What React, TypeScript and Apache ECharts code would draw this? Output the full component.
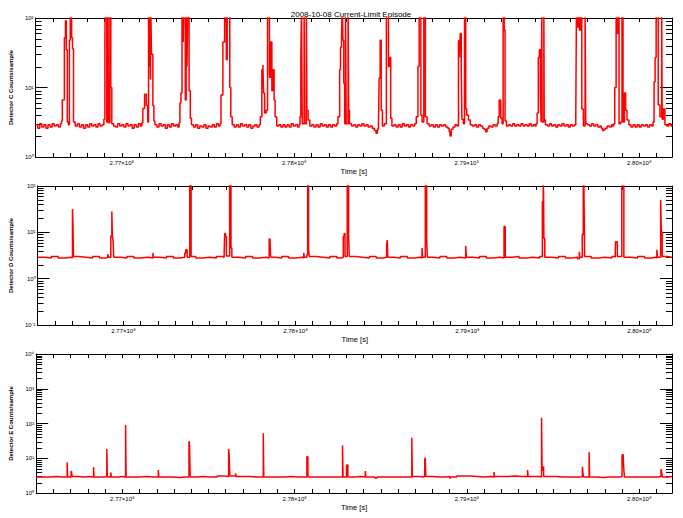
import React, { useEffect, useRef } from "react";
import * as echarts from "echarts";

const titleText = "2008-10-08 Current-Limit Episode";
const xAxisTitle = "Time [s]";
const detectorTitles = [
  "Detector C Counts/sample",
  "Detector D Counts/sample",
  "Detector E Counts/sample",
];
const timeMin = 276.5e6;
const timeMax = 280.19e6;
const timeTickStep = 1e5;
const yRanges: [number, number][] = [
  [1, 100],
  [0.1, 100],
  [1, 10000],
];
const minorMantissas = [2, 3, 4, 5, 6, 7, 8, 9];

const detectorC: [number, number][] = [
  [276.500e6, 2.9],[276.512e6, 2.6],[276.524e6, 3.0],[276.536e6, 2.7],[276.548e6, 2.9],[276.560e6, 2.6],[276.572e6, 2.9],[276.584e6, 2.7],[276.596e6, 3.0],[276.608e6, 2.8],[276.620e6, 2.9],[276.632e6, 2.7],[276.644e6, 3.0],[276.650e6, 3.3],
  [276.655e6, 6.6],[276.667e6, 52],[276.673e6, 91],[276.678e6, 35],[276.684e6, 3.2],[276.690e6, 2.9],[276.696e6, 48],[276.701e6, 150],[276.709e6, 52],[276.714e6, 36],[276.720e6, 3.2],
  [276.730e6, 2.8],[276.742e6, 3.0],[276.754e6, 2.7],[276.766e6, 2.9],[276.778e6, 2.6],[276.790e6, 2.9],[276.802e6, 2.7],[276.814e6, 3.0],[276.826e6, 2.8],[276.838e6, 2.9],[276.850e6, 2.7],[276.862e6, 3.0],[276.874e6, 2.8],[276.886e6, 2.9],[276.896e6, 3.5],
  [276.902e6, 50],[276.904e6, 150],[276.913e6, 3.2],[276.920e6, 150],[276.923e6, 3.1],[276.931e6, 150],[276.936e6, 10],[276.942e6, 3.0],
  [276.952e6, 2.8],[276.964e6, 2.7],[276.976e6, 3.0],[276.988e6, 2.8],[277.000e6, 2.9],[277.012e6, 2.7],[277.024e6, 3.0],[277.036e6, 2.8],[277.048e6, 2.9],[277.060e6, 2.6],[277.072e6, 2.9],[277.084e6, 2.7],[277.096e6, 3.0],[277.108e6, 2.8],[277.116e6, 3.1],
  [277.122e6, 5],[277.132e6, 8],[277.142e6, 5.5],[277.150e6, 3.2],[277.155e6, 150],[277.159e6, 20],[277.162e6, 150],[277.166e6, 13],[277.168e6, 150],[277.172e6, 30],[277.180e6, 5.5],[277.186e6, 3.3],
  [277.192e6, 2.9],[277.204e6, 2.7],[277.216e6, 3.0],[277.228e6, 2.8],[277.240e6, 2.9],[277.252e6, 2.6],[277.264e6, 2.9],[277.276e6, 2.7],[277.288e6, 3.0],[277.300e6, 2.8],[277.312e6, 2.9],[277.324e6, 2.7],[277.332e6, 3.1],
  [277.337e6, 6],[277.343e6, 8.3],[277.349e6, 150],[277.356e6, 45],[277.359e6, 150],[277.368e6, 6.6],[277.373e6, 150],[277.378e6, 20],[277.382e6, 150],[277.390e6, 9],[277.397e6, 3.6],
  [277.404e6, 2.9],[277.416e6, 2.7],[277.428e6, 2.9],[277.440e6, 2.6],[277.452e6, 2.8],[277.464e6, 2.7],[277.476e6, 2.9],[277.488e6, 2.6],[277.500e6, 2.8],[277.512e6, 2.7],[277.524e6, 2.9],[277.536e6, 2.7],[277.548e6, 3.0],[277.560e6, 2.8],[277.570e6, 3.0],
  [277.575e6, 7.8],[277.586e6, 45],[277.596e6, 150],[277.606e6, 25],[277.611e6, 150],[277.626e6, 10],[277.632e6, 3.8],
  [277.640e6, 2.9],[277.652e6, 2.7],[277.664e6, 2.9],[277.676e6, 2.7],[277.688e6, 3.0],[277.700e6, 2.8],[277.712e6, 2.9],[277.724e6, 2.7],[277.736e6, 2.9],[277.748e6, 2.6],[277.760e6, 2.8],[277.772e6, 2.9],[277.784e6, 2.7],[277.796e6, 2.9],
  [277.803e6, 3.8],[277.812e6, 18],[277.818e6, 21],[277.822e6, 8.3],[277.828e6, 4.3],[277.837e6, 4.7],[277.845e6, 150],[277.856e6, 14],[277.864e6, 45],[277.870e6, 9],[277.875e6, 18],[277.883e6, 6.6],[277.889e6, 3.8],
  [277.898e6, 2.8],[277.910e6, 2.9],[277.922e6, 2.7],[277.934e6, 2.9],[277.946e6, 2.7],[277.958e6, 2.9],[277.970e6, 2.7],[277.982e6, 3.0],[277.994e6, 2.8],[278.006e6, 2.9],[278.018e6, 2.7],[278.028e6, 2.9],
  [278.033e6, 3.8],[278.038e6, 27],[278.042e6, 150],[278.046e6, 3.0],[278.057e6, 150],[278.060e6, 3.0],[278.070e6, 150],[278.073e6, 4.7],[278.080e6, 3.4],
  [278.090e6, 2.8],[278.102e6, 2.9],[278.114e6, 2.7],[278.126e6, 2.9],[278.138e6, 2.7],[278.150e6, 3.0],[278.162e6, 2.8],[278.174e6, 2.9],[278.186e6, 2.7],[278.198e6, 2.9],[278.210e6, 2.7],[278.222e6, 2.9],[278.234e6, 2.8],[278.246e6, 3.0],
  [278.253e6, 3.8],[278.263e6, 18],[278.268e6, 38],[278.274e6, 56],[278.278e6, 150],[278.282e6, 48],[278.287e6, 11.5],[278.292e6, 3.0],[278.297e6, 150],[278.301e6, 3.0],[278.312e6, 150],[278.315e6, 4.7],
  [278.320e6, 3.0],[278.332e6, 2.8],[278.344e6, 2.9],[278.356e6, 2.7],[278.368e6, 2.9],[278.380e6, 2.8],[278.392e6, 3.0],[278.404e6, 2.8],[278.416e6, 2.9],[278.428e6, 2.7],[278.440e6, 2.8],[278.452e6, 2.6],[278.464e6, 2.4],[278.474e6, 2.2],[278.482e6, 2.5],[278.488e6, 2.9],
  [278.492e6, 13.7],[278.498e6, 48],[278.504e6, 4.7],[278.511e6, 2.8],[278.522e6, 3.0],[278.534e6, 150],[278.546e6, 20],[278.552e6, 27],[278.559e6, 3.6],
  [278.566e6, 2.8],[278.578e6, 2.9],[278.590e6, 2.7],[278.602e6, 2.9],[278.614e6, 2.7],[278.626e6, 3.0],[278.638e6, 2.8],[278.650e6, 2.9],[278.662e6, 2.7],[278.674e6, 2.9],[278.686e6, 2.8],[278.698e6, 3.0],
  [278.707e6, 3.8],[278.717e6, 20],[278.724e6, 150],[278.734e6, 4],[278.741e6, 3.2],[278.751e6, 150],[278.760e6, 3.8],
  [278.770e6, 3.0],[278.782e6, 2.8],[278.794e6, 2.9],[278.806e6, 2.7],[278.818e6, 2.9],[278.830e6, 2.7],[278.842e6, 2.9],[278.854e6, 2.8],[278.866e6, 2.9],[278.878e6, 2.7],[278.890e6, 2.6],[278.898e6, 2.3],[278.903e6, 2.0],[278.910e6, 2.5],[278.920e6, 2.7],[278.932e6, 2.9],[278.944e6, 2.8],
  [278.952e6, 47],[278.958e6, 27],[278.962e6, 60],[278.968e6, 18],[278.972e6, 3.5],[278.980e6, 3.0],[278.987e6, 150],[278.994e6, 4.9],[279.000e6, 4],[279.010e6, 3.4],
  [279.020e6, 2.9],[279.032e6, 2.8],[279.044e6, 2.9],[279.056e6, 2.7],[279.068e6, 2.9],[279.080e6, 2.8],[279.092e6, 2.6],[279.100e6, 2.5],[279.109e6, 2.3],[279.118e6, 2.6],[279.128e6, 2.8],[279.140e6, 2.7],[279.152e6, 2.9],[279.164e6, 2.8],[279.176e6, 3.0],
  [279.182e6, 3.8],[279.188e6, 6.6],[279.197e6, 3.6],[279.205e6, 3.0],[279.211e6, 150],[279.217e6, 67],[279.222e6, 3.3],
  [279.230e6, 2.8],[279.242e6, 2.9],[279.254e6, 2.8],[279.266e6, 3.0],[279.278e6, 2.8],[279.290e6, 2.9],[279.302e6, 2.8],[279.314e6, 3.0],[279.326e6, 2.8],[279.338e6, 2.9],[279.350e6, 2.8],[279.362e6, 3.0],[279.374e6, 2.8],[279.386e6, 2.9],[279.396e6, 2.8],
  [279.402e6, 3.0],[279.408e6, 4.3],[279.415e6, 27],[279.421e6, 35],[279.427e6, 8.6],[279.431e6, 3.2],[279.435e6, 150],[279.437e6, 3.2],[279.447e6, 150],[279.449e6, 3.4],
  [279.456e6, 2.9],[279.468e6, 2.8],[279.480e6, 3.0],[279.492e6, 2.8],[279.504e6, 2.9],[279.516e6, 2.7],[279.528e6, 2.9],[279.540e6, 2.8],[279.552e6, 3.0],[279.564e6, 2.8],[279.576e6, 2.9],[279.588e6, 2.7],[279.600e6, 2.9],[279.612e6, 2.8],[279.624e6, 2.9],
  [279.632e6, 3.4],[279.636e6, 150],[279.642e6, 74],[279.648e6, 150],[279.653e6, 67],[279.661e6, 150],[279.667e6, 4.9],[279.676e6, 2.8],[279.686e6, 150],[279.690e6, 3.0],
  [279.700e6, 2.9],[279.712e6, 2.8],[279.724e6, 3.0],[279.736e6, 2.8],[279.748e6, 2.9],[279.760e6, 2.7],[279.772e6, 2.8],[279.780e6, 2.6],[279.788e6, 2.4],[279.796e6, 2.5],[279.804e6, 2.6],[279.814e6, 2.8],[279.826e6, 2.7],[279.838e6, 2.9],[279.846e6, 2.8],
  [279.852e6, 3.0],[279.858e6, 10],[279.866e6, 150],[279.872e6, 60],[279.878e6, 150],[279.883e6, 3.0],[279.892e6, 3.2],[279.900e6, 150],[279.906e6, 3.2],[279.914e6, 8.3],[279.921e6, 4.7],[279.929e6, 3.4],
  [279.940e6, 2.9],[279.952e6, 2.7],[279.964e6, 2.9],[279.976e6, 2.7],[279.988e6, 2.9],[280.000e6, 2.7],[280.012e6, 2.9],[280.024e6, 2.8],[280.036e6, 2.9],[280.048e6, 2.7],[280.060e6, 2.9],[280.072e6, 2.8],[280.080e6, 3.2],
  [280.086e6, 12],[280.092e6, 27],[280.098e6, 150],[280.110e6, 5.6],[280.120e6, 3.8],[280.130e6, 150],[280.133e6, 3.5],[280.140e6, 4.9],[280.149e6, 2.9],
  [280.160e6, 2.8],[280.172e6, 3.0],[280.184e6, 2.8],[280.190e6, 2.9],
];

const detectorD: [number, number][] = [
  [276.500e6, 2.9],[276.540e6, 2.8],[276.580e6, 3.0],[276.620e6, 2.8],[276.660e6, 2.9],[276.695e6, 2.8],
  [276.703e6, 32],[276.706e6, 14.5],[276.709e6, 3.0],
  [276.740e6, 2.9],[276.780e6, 2.8],[276.820e6, 3.0],[276.860e6, 2.8],[276.900e6, 2.9],
  [276.908e6, 3.4],[276.912e6, 2.9],[276.926e6, 8.3],[276.932e6, 28],[276.935e6, 8.3],[276.939e6, 6.7],[276.943e6, 2.9],
  [276.980e6, 2.8],[277.020e6, 3.0],[277.060e6, 2.8],[277.100e6, 2.9],[277.140e6, 2.8],
  [277.171e6, 3.6],[277.175e6, 2.9],
  [277.210e6, 2.8],[277.250e6, 3.0],[277.290e6, 2.8],[277.330e6, 2.9],
  [277.356e6, 3.6],[277.362e6, 4.2],[277.370e6, 2.9],[277.385e6, 500],[277.393e6, 3.0],
  [277.420e6, 2.8],[277.460e6, 2.9],[277.500e6, 2.8],[277.540e6, 3.0],[277.575e6, 2.9],
  [277.585e6, 3.3],[277.588e6, 9.4],[277.593e6, 8.1],[277.598e6, 3.1],[277.617e6, 500],[277.625e6, 4.6],[277.630e6, 2.9],
  [277.670e6, 2.8],[277.710e6, 3.0],[277.750e6, 2.8],[277.790e6, 2.9],[277.830e6, 2.8],
  [277.847e6, 7.2],[277.852e6, 6.3],[277.855e6, 3.1],[277.859e6, 2.9],
  [277.880e6, 2.8],[277.920e6, 3.0],[277.960e6, 2.8],[278.000e6, 2.9],[278.040e6, 2.8],
  [278.048e6, 3.6],[278.052e6, 2.9],[278.066e6, 3.3],[278.071e6, 500],[278.076e6, 4.5],[278.080e6, 3.0],
  [278.120e6, 2.9],[278.160e6, 2.8],[278.200e6, 3.0],[278.240e6, 2.8],[278.270e6, 2.9],
  [278.278e6, 8.1],[278.283e6, 9.4],[278.288e6, 3.0],[278.301e6, 500],[278.309e6, 8.1],[278.313e6, 3.0],
  [278.350e6, 2.9],[278.390e6, 2.8],[278.430e6, 3.0],[278.470e6, 2.8],[278.510e6, 2.9],
  [278.530e6, 5.3],[278.534e6, 6.8],[278.537e6, 2.9],
  [278.570e6, 2.8],[278.610e6, 3.0],[278.650e6, 2.8],[278.690e6, 2.9],[278.725e6, 2.8],
  [278.736e6, 4.6],[278.740e6, 2.9],[278.755e6, 500],[278.763e6, 6.8],[278.767e6, 2.9],
  [278.800e6, 2.8],[278.840e6, 3.0],[278.880e6, 2.8],[278.920e6, 2.9],[278.960e6, 2.8],
  [278.990e6, 5.1],[278.994e6, 2.9],
  [279.030e6, 2.8],[279.070e6, 3.0],[279.110e6, 2.8],[279.150e6, 2.9],[279.190e6, 2.8],
  [279.213e6, 13.3],[279.220e6, 2.9],
  [279.260e6, 3.0],[279.300e6, 2.8],[279.340e6, 2.9],[279.380e6, 2.8],[279.420e6, 3.0],
  [279.436e6, 46],[279.441e6, 500],[279.445e6, 7.4],[279.450e6, 2.9],
  [279.490e6, 2.8],[279.530e6, 3.0],[279.570e6, 2.8],[279.610e6, 2.9],[279.640e6, 2.7],
  [279.651e6, 3.8],[279.655e6, 2.9],[279.668e6, 9.0],[279.674e6, 500],[279.678e6, 70],[279.682e6, 3.0],
  [279.720e6, 2.8],[279.760e6, 2.9],[279.800e6, 2.8],[279.840e6, 3.0],[279.856e6, 2.9],
  [279.860e6, 3.9],[279.862e6, 6.3],[279.872e6, 3.0],[279.898e6, 500],[279.910e6, 2.9],
  [279.950e6, 2.8],[279.990e6, 3.0],[280.030e6, 2.8],[280.070e6, 2.9],[280.095e6, 2.8],
  [280.102e6, 4.2],[280.106e6, 2.9],[280.124e6, 50],[280.128e6, 10.2],[280.133e6, 3.0],
  [280.160e6, 2.9],[280.190e6, 2.8],
];

const detectorE: [number, number][] = [
  [276.500e6, 2.9],[276.540e6, 2.9],[276.580e6, 3.0],[276.620e6, 2.9],[276.660e6, 2.9],
  [276.680e6, 7.6],[276.683e6, 2.9],[276.703e6, 4.3],[276.706e6, 3.7],[276.709e6, 3.0],
  [276.740e6, 2.9],[276.780e6, 3.0],[276.810e6, 2.9],
  [276.833e6, 5.6],[276.836e6, 2.9],
  [276.870e6, 2.9],[276.900e6, 3.0],
  [276.910e6, 18.5],[276.913e6, 2.9],[276.933e6, 3.9],[276.936e6, 2.9],
  [276.980e6, 3.0],[277.000e6, 2.9],
  [277.019e6, 90],[277.022e6, 2.9],
  [277.060e6, 2.9],[277.100e6, 3.0],[277.140e6, 2.9],[277.180e6, 2.9],
  [277.209e6, 4.6],[277.212e6, 2.9],
  [277.250e6, 2.9],[277.290e6, 2.8],[277.330e6, 2.9],[277.370e6, 2.9],
  [277.387e6, 31],[277.390e6, 26],[277.394e6, 2.9],
  [277.430e6, 3.0],[277.470e6, 2.9],[277.510e6, 2.9],[277.550e6, 3.1],[277.590e6, 3.0],
  [277.617e6, 18.5],[277.620e6, 12.4],[277.624e6, 3.1],[277.657e6, 3.7],[277.660e6, 3.0],
  [277.700e6, 3.0],[277.740e6, 2.9],[277.780e6, 2.9],
  [277.818e6, 52],[277.821e6, 2.9],
  [277.860e6, 2.9],[277.900e6, 2.9],[277.940e6, 3.0],[277.980e6, 2.9],[278.020e6, 2.9],[278.050e6, 2.9],
  [278.071e6, 11],[278.077e6, 2.9],
  [278.120e6, 2.9],[278.160e6, 2.9],[278.200e6, 2.9],[278.240e6, 2.9],
  [278.278e6, 23.6],[278.281e6, 2.9],[278.301e6, 6.4],[278.309e6, 2.9],
  [278.350e6, 3.0],[278.380e6, 2.9],
  [278.410e6, 4.3],[278.413e6, 2.9],
  [278.450e6, 2.9],[278.465e6, 2.7],[278.478e6, 2.9],
  [278.520e6, 2.9],[278.560e6, 2.9],[278.600e6, 2.9],[278.640e6, 2.9],
  [278.680e6, 39],[278.683e6, 3.0],
  [278.720e6, 2.9],[278.750e6, 3.0],
  [278.755e6, 8.9],[278.758e6, 10.4],[278.761e6, 3.0],
  [278.800e6, 2.9],[278.840e6, 2.9],[278.880e6, 3.0],[278.900e6, 2.7],[278.906e6, 2.9],
  [278.940e6, 3.1],[278.980e6, 3.1],[279.020e6, 3.0],[279.060e6, 2.9],[279.100e6, 3.0],[279.140e6, 2.9],
  [279.157e6, 4.0],[279.160e6, 3.0],
  [279.200e6, 3.0],[279.240e6, 3.1],[279.280e6, 3.0],[279.320e6, 3.0],
  [279.352e6, 4.6],[279.355e6, 3.0],
  [279.390e6, 3.0],[279.420e6, 2.9],
  [279.433e6, 147],[279.436e6, 4.3],[279.440e6, 5.6],[279.445e6, 3.0],
  [279.480e6, 3.0],[279.520e6, 2.9],[279.560e6, 2.9],[279.600e6, 2.9],[279.640e6, 2.9],[279.665e6, 3.0],
  [279.670e6, 5.7],[279.673e6, 3.8],[279.676e6, 2.9],
  [279.709e6, 15],[279.712e6, 2.9],
  [279.750e6, 2.8],[279.790e6, 2.9],[279.830e6, 2.9],[279.870e6, 2.9],[279.895e6, 3.0],
  [279.900e6, 12.4],[279.906e6, 13.3],[279.910e6, 4.9],[279.914e6, 2.9],
  [279.950e6, 2.9],[279.990e6, 2.9],[280.030e6, 2.9],[280.070e6, 2.9],[280.110e6, 3.0],
  [280.126e6, 4.9],[280.130e6, 3.8],[280.134e6, 2.9],
  [280.170e6, 3.0],[280.190e6, 2.9],
];

const detectorSeries = [detectorC, detectorD, detectorE];

const SUP: Record<string, string> = {
  "-": "⁻", "0": "⁰", "1": "¹", "2": "²", "3": "³", "4": "⁴",
  "5": "⁵", "6": "⁶", "7": "⁷", "8": "⁸", "9": "⁹",
};
const toSup = (s: string) => s.split("").map((c) => SUP[c] || c).join("");
const powerLabel = (v: number) => "10" + toSup(String(Math.round(Math.log10(v))));
const timeLabel = (v: number) => {
  const m = v / 1e6;
  if (Math.abs(m - Math.round(m)) > 1e-6) return "";
  return (v / 1e8).toFixed(2) + "×10" + toSup("8");
};

const GRID_LEFT = 30;
const GRID_RIGHT = 11;
const GRID_TOPS = [18, 186, 354];
const GRID_HEIGHT = 139;
const FONT = "Liberation Sans";
const BLACK = "#000000";
const RED = "#ff0000";

function minorTicksFor([lo, hi]: [number, number]) {
  const out: number[] = [];
  for (let d = lo; d < hi * 0.999; d *= 10) {
    for (const m of minorMantissas) out.push(m * d);
  }
  return out;
}

export default function App() {
  const ref = useRef<HTMLDivElement>(null);
  useEffect(() => {
    if (!ref.current) return;
    const chart = echarts.init(ref.current, undefined, { renderer: "svg" });
    const grid: any[] = [];
    const xAxis: any[] = [];
    const yAxis: any[] = [];
    const series: any[] = [];
    for (let i = 0; i < 3; i++) {
      grid.push({ left: GRID_LEFT, right: GRID_RIGHT, top: GRID_TOPS[i], height: GRID_HEIGHT });
      const xBase = {
        type: "value",
        gridIndex: i,
        min: timeMin,
        max: timeMax,
        interval: timeTickStep,
        axisLine: { show: true, onZero: false, lineStyle: { color: BLACK, width: 1 } },
        axisTick: { show: true, inside: true, length: 4, lineStyle: { color: BLACK, width: 1 } },
        splitLine: { show: false },
      };
      xAxis.push({
        ...xBase,
        position: "bottom",
        axisLabel: { formatter: timeLabel, fontSize: 6, color: BLACK, fontFamily: FONT, margin: 3 },
        name: xAxisTitle,
        nameLocation: "middle",
        nameGap: 10,
        nameTextStyle: { fontSize: 7.5, color: BLACK, fontFamily: FONT },
      });
      xAxis.push({ ...xBase, position: "top", axisLabel: { show: false } });
      const yBase = {
        type: "log",
        logBase: 10,
        gridIndex: i,
        min: yRanges[i][0],
        max: yRanges[i][1],
        axisLine: { show: true, onZero: false, lineStyle: { color: BLACK, width: 1 } },
        axisTick: { show: true, inside: true, length: 12, lineStyle: { color: BLACK, width: 1 } },
        splitLine: { show: false },
      };
      yAxis.push({
        ...yBase,
        position: "left",
        axisLabel: { formatter: powerLabel, fontSize: 6, color: BLACK, fontFamily: FONT, margin: 2 },
        name: detectorTitles[i],
        nameLocation: "middle",
        nameRotate: 90,
        nameGap: 12,
        nameTextStyle: { fontSize: 6, color: BLACK, fontFamily: FONT, fontWeight: "bold" },
      });
      yAxis.push({ ...yBase, position: "right", axisLabel: { show: false } });

      series.push({
        type: "line",
        xAxisIndex: 2 * i,
        yAxisIndex: 2 * i,
        data: detectorSeries[i],
        step: "end",
        symbol: "none",
        showSymbol: false,
        clip: true,
        silent: true,
        lineStyle: { color: RED, width: 1.5 },
      });
      series.push({
        type: "custom",
        xAxisIndex: 2 * i,
        yAxisIndex: 2 * i,
        silent: true,
        clip: false,
        data: minorTicksFor(yRanges[i]).map((v) => [timeMin, v]),
        encode: { x: 0, y: 1 },
        renderItem: (params: any, api: any) => {
          const pt = api.coord([timeMin, api.value(1)]);
          const cs = params.coordSys;
          const y = Math.round(pt[1]) + 0.5;
          const st = { stroke: BLACK, lineWidth: 1 };
          return {
            type: "group",
            children: [
              { type: "line", shape: { x1: cs.x, y1: y, x2: cs.x + 6, y2: y }, style: st },
              { type: "line", shape: { x1: cs.x + cs.width - 6, y1: y, x2: cs.x + cs.width, y2: y }, style: st },
            ],
          };
        },
      });
    }
    chart.setOption({
      animation: false,
      backgroundColor: "#ffffff",
      grid,
      xAxis,
      yAxis,
      series,
      graphic: [
        {
          type: "text",
          x: (GRID_LEFT + 683 - GRID_RIGHT) / 2,
          y: 14,
          style: {
            text: titleText,
            fontSize: 8,
            fontFamily: FONT,
            fill: BLACK,
            textAlign: "center",
            textVerticalAlign: "middle",
          },
        },
      ],
    });
    return () => chart.dispose();
  }, []);
  return (
    <div
      ref={ref}
      style={{ position: "absolute", left: 0, top: 0, width: 683, height: 518, background: "#fff" }}
    />
  );
}
